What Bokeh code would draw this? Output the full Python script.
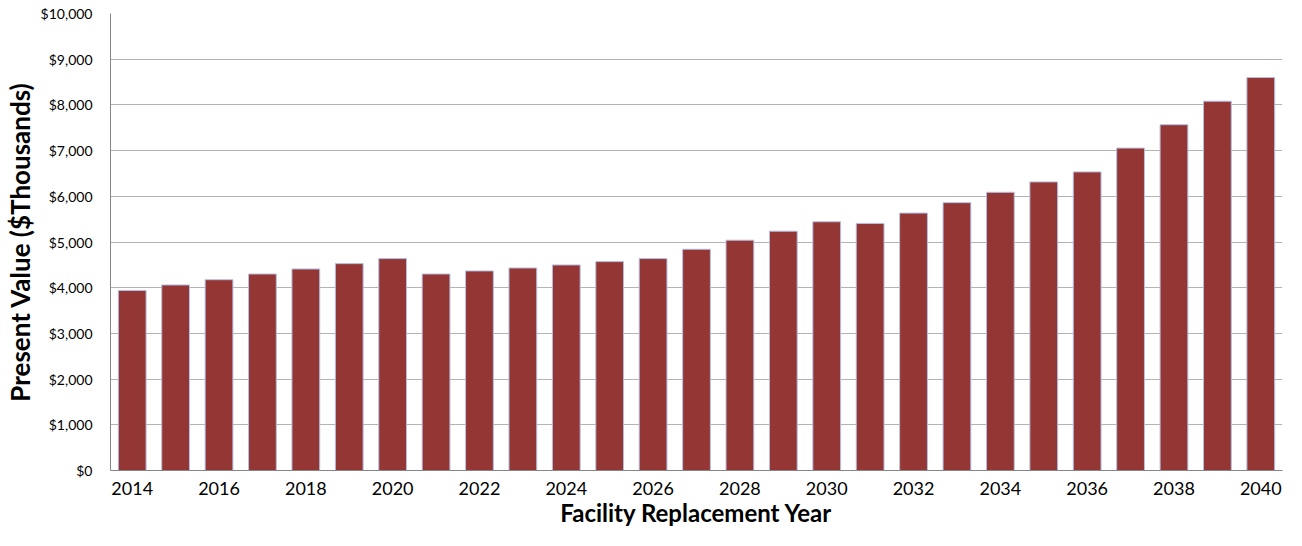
from bokeh.plotting import figure
from bokeh.models import FixedTicker, NumeralTickFormatter, ColumnDataSource
from bokeh.embed import file_html
from bokeh.resources import INLINE

years = list(range(2014, 2041))
present_value = [3940, 4060, 4175, 4300, 4410, 4527, 4637, 4300, 4367,
                 4432, 4498, 4571, 4637, 4842, 5040, 5237, 5443, 5407,
                 5633, 5861, 6088, 6315, 6534, 7055, 7567, 8081, 8600]
y_ticks = list(range(0, 10001, 1000))
x_ticks = list(range(2014, 2041, 2))

src = ColumnDataSource(data=dict(year=years, value=present_value))

p = figure(width=1286, height=530, output_backend="svg", toolbar_location=None,
           x_range=(2013.5, 2040.5), y_range=(0, 10000),
           min_border_left=102, min_border_top=13, min_border_right=4, min_border_bottom=60)
p.outline_line_color = None
p.background_fill_color = "white"

p.vbar(x="year", top="value", width=0.64, source=src,
       fill_color="#943634", line_color="#b4c0e4", line_width=1)

font = "Lato"
p.yaxis.ticker = FixedTicker(ticks=y_ticks)
p.yaxis.formatter = NumeralTickFormatter(format="$0,0")
p.xaxis.ticker = FixedTicker(ticks=x_ticks)

for ax in (p.xaxis, p.yaxis):
    ax.axis_line_color = "#868686"
    ax.major_tick_line_color = None
    ax.minor_tick_line_color = None
    ax.major_tick_out = 0
    ax.major_tick_in = 0
    ax.minor_tick_out = 0
    ax.minor_tick_in = 0
    ax.major_label_text_font = font
    ax.axis_label_text_font = font
    ax.axis_label_text_font_style = "bold"
    ax.axis_label_text_color = "black"
    ax.major_label_text_color = "black"

p.yaxis.axis_label_text_font_size = "26px"
p.xaxis.axis_label_text_font_size = "24px"
p.yaxis.major_label_text_font_size = "14px"
p.xaxis.major_label_text_font_size = "18px"
p.yaxis.major_label_standoff = 18
p.xaxis.major_label_standoff = 11
p.yaxis.axis_label = "Present Value ($Thousands)"
p.xaxis.axis_label = "Facility Replacement Year"
p.yaxis.axis_label_standoff = 2
p.xaxis.axis_label_standoff = 0

p.xgrid.grid_line_color = None
p.ygrid.grid_line_color = "#b3b3b3"
p.ygrid.grid_line_width = 1
p.ygrid.ticker = FixedTicker(ticks=y_ticks)

open("out.html", "w").write(file_html(p, INLINE))
